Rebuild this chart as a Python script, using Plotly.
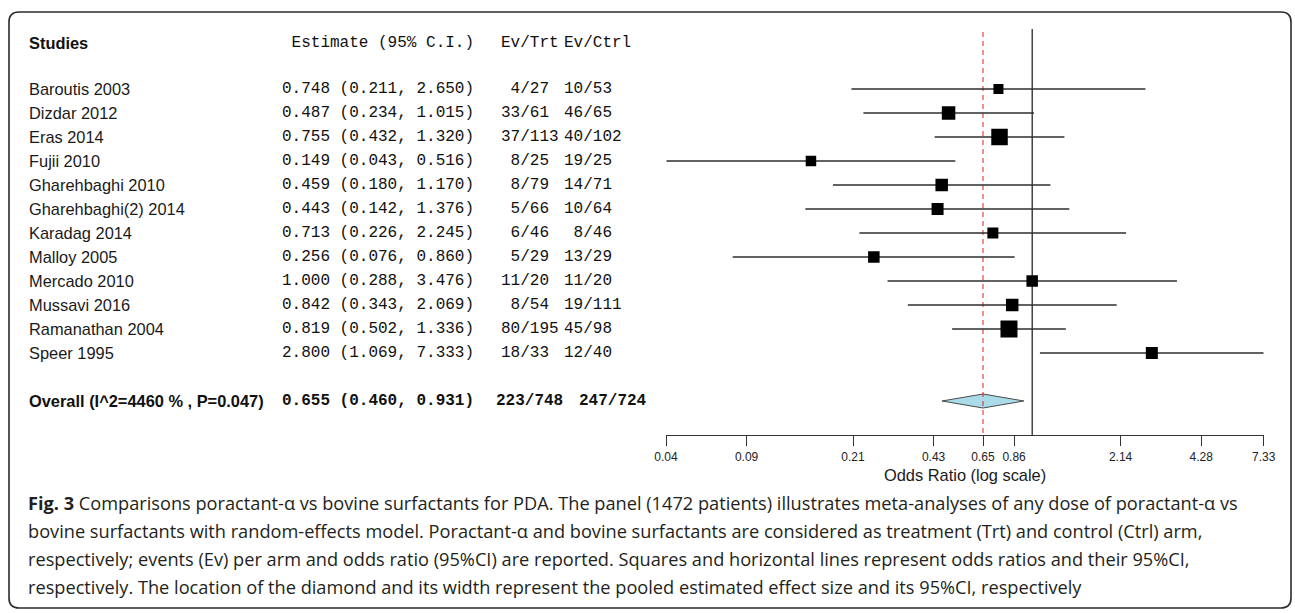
import math
import plotly.graph_objects as go

# ---------------- data ----------------
studies = ["Baroutis 2003", "Dizdar 2012", "Eras 2014", "Fujii 2010", "Gharehbaghi 2010",
           "Gharehbaghi(2) 2014", "Karadag 2014", "Malloy 2005", "Mercado 2010",
           "Mussavi 2016", "Ramanathan 2004", "Speer 1995"]
estimate = [0.748, 0.487, 0.755, 0.149, 0.459, 0.443, 0.713, 0.256, 1.000, 0.842, 0.819, 2.800]
ci_low = [0.211, 0.234, 0.432, 0.043, 0.180, 0.142, 0.226, 0.076, 0.288, 0.343, 0.502, 1.069]
ci_high = [2.650, 1.015, 1.320, 0.516, 1.170, 1.376, 2.245, 0.860, 3.476, 2.069, 1.336, 7.333]
ev_trt = [4, 33, 37, 8, 8, 5, 6, 5, 11, 8, 80, 18]
n_trt = [27, 61, 113, 25, 79, 66, 46, 29, 20, 54, 195, 33]
ev_ctrl = [10, 46, 40, 19, 14, 10, 8, 13, 11, 19, 45, 12]
n_ctrl = [53, 65, 102, 25, 71, 64, 46, 29, 20, 111, 98, 40]
weight_box = [10, 13.5, 16.5, 10.5, 12.5, 12, 11, 11.5, 11.5, 12.5, 17, 12]

overall_label = "Overall (I^2=4460 % , P=0.047)"
overall_est = 0.655
overall_low = 0.460
overall_high = 0.931
overall_trt = "223/748"
overall_ctrl = "247/724"

tick_values = [0.0428, 0.0856, 0.214, 0.428, 0.655, 0.856, 2.14, 4.28, 7.333]
tick_labels = ["0.04", "0.09", "0.21", "0.43", "0.65", "0.86", "2.14", "4.28", "7.33"]

caption_lines = [
    "<b>Fig. 3</b> Comparisons poractant-α vs bovine surfactants for PDA. The panel (1472 patients) illustrates meta-analyses of any dose of poractant-α vs",
    "bovine surfactants with random-effects model. Poractant-α and bovine surfactants are considered as treatment (Trt) and control (Ctrl) arm,",
    "respectively; events (Ev) per arm and odds ratio (95%CI) are reported. Squares and horizontal lines represent odds ratios and their 95%CI,",
    "respectively. The location of the diamond and its width represent the pooled estimated effect size and its 95%CI, respectively",
]

# ---------------- layout geometry ----------------
W, H = 1295, 613
ROW0_PX, ROW_STEP = 89.0, 24.0


def px_to_row(py_):
    return 1 + (py_ - ROW0_PX) / ROW_STEP


def px(x):
    return x / W


def py(y):
    return 1 - y / H


rows = list(range(1, len(studies) + 1))
overall_row = 14
header_row = -0.93
axis_row = px_to_row(435)

NBSP = "\u00a0"
sans = "Liberation Sans"
mono = "Liberation Mono"

fig = go.Figure()

# diamond (pooled)
dh = 7 / ROW_STEP
fig.add_trace(go.Scatter(
    x=[overall_low, overall_est, overall_high, overall_est, overall_low],
    y=[overall_row, overall_row - dh, overall_row, overall_row + dh, overall_row],
    mode="lines", fill="toself", fillcolor="#a9dbe9",
    line=dict(color="#4a4a4a", width=1), hoverinfo="skip", showlegend=False))

# null line at OR = 1
fig.add_trace(go.Scatter(x=[1, 1], y=[px_to_row(29), axis_row], mode="lines",
                         line=dict(color="black", width=1.1), showlegend=False, hoverinfo="skip"))
# pooled estimate line
fig.add_trace(go.Scatter(x=[overall_est, overall_est], y=[px_to_row(32), axis_row], mode="lines",
                         line=dict(color="#ee1c1c", width=1, dash="5px,4px"),
                         showlegend=False, hoverinfo="skip"))

# CI lines
xs, ys = [], []
for r, lo, hi in zip(rows, ci_low, ci_high):
    xs += [lo, hi, None]
    ys += [r, r, None]
fig.add_trace(go.Scatter(x=xs, y=ys, mode="lines", line=dict(color="#2e2e2e", width=1.3),
                         showlegend=False, hoverinfo="skip", cliponaxis=False))

# squares
fig.add_trace(go.Scatter(x=estimate, y=rows, mode="markers",
                         marker=dict(symbol="square", size=weight_box, color="#000000",
                                     opacity=1, line=dict(width=0)),
                         showlegend=False, cliponaxis=False))

# ---------------- text columns ----------------
ann = []


def add_text(x_px, row, text, font, size, bold=False, color="#111111", anchor="left"):
    ann.append(dict(x=px(x_px), xref="paper", y=row, yref="y", text=(f"<b>{text}</b>" if bold else text),
                    showarrow=False, xanchor=anchor, yanchor="middle",
                    font=dict(family=font, size=size, color=color), borderpad=0))


NAME_X, EST_X, TRT_X, CTRL_X = 28, 281, 500, 563

add_text(NAME_X, header_row, "Studies", sans, 16.4, bold=True)
add_text(EST_X, header_row, NBSP + "Estimate (95% C.I.)", mono, 16)
add_text(TRT_X, header_row, "Ev/Trt", mono, 16)
add_text(CTRL_X, header_row, "Ev/Ctrl", mono, 16)

for r, name, e, lo, hi, et, nt, ec, nc in zip(rows, studies, estimate, ci_low, ci_high,
                                              ev_trt, n_trt, ev_ctrl, n_ctrl):
    add_text(NAME_X, r, name, sans, 16.4, color="#1a1a1a")
    add_text(EST_X, r, f"{e:.3f} ({lo:.3f}, {hi:.3f})", mono, 16)
    add_text(TRT_X, r, f"{et}/{nt}".rjust(5).replace(" ", NBSP), mono, 16)
    add_text(CTRL_X, r, f"{ec}/{nc}".rjust(5).replace(" ", NBSP), mono, 16)

add_text(NAME_X, overall_row, overall_label, sans, 16.4, bold=True)
add_text(EST_X, overall_row, f"{overall_est:.3f} ({overall_low:.3f}, {overall_high:.3f})", mono, 16, bold=True)
add_text(495, overall_row, overall_trt, mono, 16, bold=True)
add_text(578, overall_row, overall_ctrl, mono, 16, bold=True)

# axis title
ann.append(dict(x=px((666 + 1263.7) / 2), xref="paper", y=py(475), yref="paper",
                text="Odds Ratio (log scale)", showarrow=False, xanchor="center", yanchor="middle",
                font=dict(family=sans, size=16.4, color="#1a1a1a")))

# caption
for k, line in enumerate(caption_lines):
    ann.append(dict(x=px(26), xref="paper", y=py(503 + 28 * k), yref="paper", text=line,
                    showarrow=False, xanchor="left", yanchor="middle",
                    font=dict(family="Open Sans", size=18.2, color="#231f20")))

# rounded border
x0, y0, x1, y1, rad = 9, 12, 1291, 608, 10
path = (f"M {px(x0 + rad)} {py(y0)} L {px(x1 - rad)} {py(y0)} Q {px(x1)} {py(y0)} {px(x1)} {py(y0 + rad)} "
        f"L {px(x1)} {py(y1 - rad)} Q {px(x1)} {py(y1)} {px(x1 - rad)} {py(y1)} "
        f"L {px(x0 + rad)} {py(y1)} Q {px(x0)} {py(y1)} {px(x0)} {py(y1 - rad)} "
        f"L {px(x0)} {py(y0 + rad)} Q {px(x0)} {py(y0)} {px(x0 + rad)} {py(y0)} Z")

fig.update_layout(
    template="none",
    width=W, height=H,
    margin=dict(l=0, r=0, t=0, b=0, pad=0),
    autosize=False,
    paper_bgcolor="white", plot_bgcolor="rgba(0,0,0,0)",
    showlegend=False,
    annotations=ann,
    shapes=[dict(type="path", path=path, xref="paper", yref="paper",
                 line=dict(color="#2b2b2b", width=1.6), fillcolor="rgba(0,0,0,0)")],
    xaxis=dict(type="log", domain=[666 / W, 1263.7 / W],
               range=[math.log10(tick_values[0]), math.log10(tick_values[-1])],
               anchor="free", position=py(435), automargin=False,
               showgrid=False, zeroline=False, showline=True, linecolor="#333333", linewidth=1.2,
               ticks="outside", ticklen=10, tickwidth=1.2, tickcolor="#333333",
               tickvals=tick_values, ticktext=tick_labels,
               tickfont=dict(family=sans, size=12, color="#222222")),
    yaxis=dict(domain=[0, 1], range=[px_to_row(H), px_to_row(0)], visible=False,
               automargin=False, showgrid=False, zeroline=False),
)

fig.write_html("out.html", config={"displayModeBar": False},
               post_script="document.body.style.margin='0px';document.body.style.padding='0px';")
